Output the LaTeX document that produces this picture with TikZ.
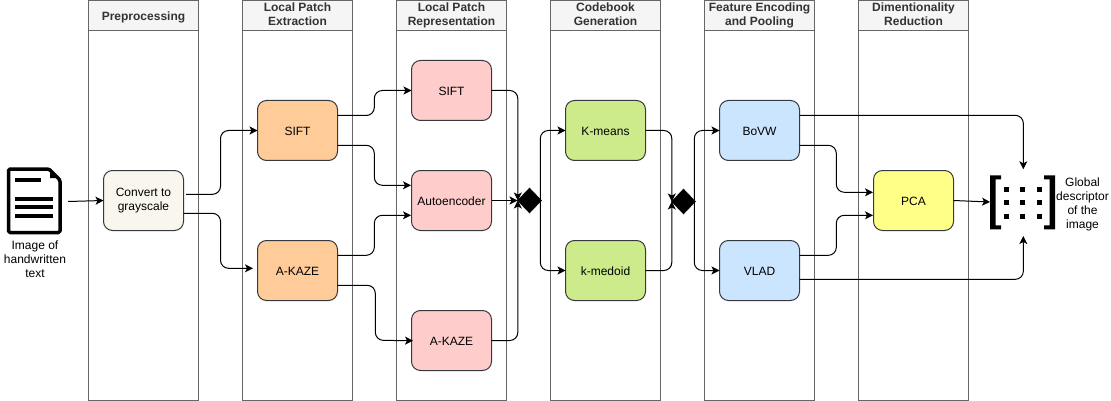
\documentclass[tikz,border=0pt]{standalone}
\usepackage{fontspec}
\setmainfont{Liberation Sans}
\usetikzlibrary{arrows.meta,calc,shapes.geometric}
\definecolor{lanefill}{HTML}{F5F5F5}
\definecolor{lanedraw}{HTML}{666666}
\definecolor{lanetext}{HTML}{333333}
\definecolor{boxdraw}{HTML}{36393D}
\definecolor{cream}{HTML}{F9F7ED}
\definecolor{peach}{HTML}{FFCC99}
\definecolor{pink}{HTML}{FFCCCC}
\definecolor{lime}{HTML}{CDEB8B}
\definecolor{sky}{HTML}{CCE5FF}
\definecolor{lemon}{HTML}{FFFF88}
\tikzset{
  x=1pt,y=-1pt,
  txt/.style={font=\fontsize{12}{14}\selectfont,align=center,inner sep=0pt,text=black},
  evenlines/.style={execute at begin node={\rule[-3pt]{0pt}{16pt}},execute at end node={\rule[-3pt]{0pt}{3pt}}},
  oneline/.style={},
  twolines/.style={execute at begin node={\rule[-3pt]{0pt}{19.5pt}}},
  lanebody/.style={draw=lanedraw,line width=1pt,fill=white,minimum width=110pt,minimum height=400pt,inner sep=0pt,outer sep=0pt},
  lanehead/.style={draw=lanedraw,line width=1pt,fill=lanefill,minimum width=110pt,minimum height=30pt,inner sep=0pt,outer sep=0pt,align=center,text=lanetext,font=\fontsize{12}{14}\selectfont\bfseries,evenlines},
  stepbox/.style={draw=boxdraw,line width=1pt,rounded corners=9pt,minimum width=80pt,minimum height=60pt,inner sep=0pt,outer sep=0pt,align=center,font=\fontsize{12}{14}\selectfont,evenlines},
  conn/.style={draw=black,line width=1pt,rounded corners=8pt,-{Stealth[length=8pt,width=8pt,inset=2pt]}},
  hub/.style={diamond,fill=black,draw=black,minimum width=24pt,minimum height=25pt,inner sep=0pt,outer sep=0pt},
}
\begin{document}
\begin{tikzpicture}
\useasboundingbox (0,0) rectangle (1111,401);
% lanes
\foreach \n/\cx/\st/\lab in {a/143.5/oneline/Preprocessing,b/297.5/twolines/{Local Patch\\Extraction},c/451.5/twolines/{Local Patch\\Representation},d/605.5/twolines/{Codebook\\Generation},e/759.5/twolines/{Feature Encoding\\and Pooling},f/913.5/twolines/{Dimentionality\\Reduction}}{
  \node[lanebody] (lane\n) at (\cx,200.5) {};
  \node[lanehead,\st] (head\n) at (\cx,15.5) {\lab};
}
% boxes
\node[stepbox,twolines,fill=cream] (gray) at (143.5,200.5) {Convert to\\grayscale};
\node[stepbox,fill=peach] (sift) at (297.5,130.5) {SIFT};
\node[stepbox,fill=peach] (kaze) at (297.5,270.5) {A-KAZE};
\node[stepbox,fill=pink] (rsift) at (451.5,90.5) {SIFT};
\node[stepbox,fill=pink] (rauto) at (451.5,200.5) {Autoencoder};
\node[stepbox,fill=pink] (rkaze) at (451.5,340.5) {A-KAZE};
\node[stepbox,fill=lime] (kmeans) at (605.5,130.5) {K-means};
\node[stepbox,fill=lime] (kmed) at (605.5,270.5) {k-medoid};
\node[stepbox,fill=sky] (bovw) at (759.5,130.5) {BoVW};
\node[stepbox,fill=sky] (vlad) at (759.5,270.5) {VLAD};
\node[stepbox,fill=lemon] (pca) at (913.5,200.5) {PCA};
\node[hub] (h1) at (529.5,200.5) {};
\node[hub] (h2) at (683.5,201.5) {};
% document icon
\coordinate (docin) at (68,201.5);
\draw[line width=3.5pt,line join=round,rounded corners=1.5pt,fill=white] (8.5,169) -- (49,169) -- (60,180) -- (60,232.5) -- (8.5,232.5) -- cycle;
\fill[black] (50,172) -- (50,178) -- (57,178) -- cycle;
\fill[black] (15,178) rectangle (41,182);
\fill[black] (15,197) rectangle (53,201);
\fill[black] (15,205) rectangle (53,209);
\fill[black] (15,214) rectangle (53,218);
\node[txt] (doclabel) at (35,259.5) {Image of\\handwritten\\text};
% matrix icon
\coordinate (mattop) at (1023.3,169.3);
\coordinate (matbot) at (1023.3,236);
\coordinate (matleft) at (990,202);
\fill[black] (990,175.3) -- (1001,175.3) -- (1001,179.3) -- (995.5,179.3) -- (995.5,225.3) -- (1001,225.3) -- (1001,229.3) -- (990,229.3) -- cycle;
\fill[black] (1055,175.3) -- (1044,175.3) -- (1044,179.3) -- (1049.5,179.3) -- (1049.5,225.3) -- (1044,225.3) -- (1044,229.3) -- (1055,229.3) -- cycle;
\foreach \px in {1006,1022.5,1039}{\foreach \py in {189,202.5,216}{\fill[black] (\px-2.5,\py-2.5) rectangle (\px+2.5,\py+2.5);}}
\node[txt] (matlabel) at (1082.5,204.5) {Global\\descriptor\\of the\\image};
% connectors
\coordinate (gout1) at (186,194.3);
\coordinate (gout2) at (183.5,213.3);
\draw[conn] (docin) -- (gray.west);
\draw[conn] (gout1) -- (220.5,194.3) -- (220.5,130.5) -- (sift.west);
\draw[conn] (gout2) -- (220.5,213.3) -- (220.5,268.3) -- ([xshift=-4.5pt,yshift=2.2pt]kaze.west);
\draw[conn] (337.5,115.5) -- (374.3,115.5) -- (374.3,90.5) -- (rsift.west);
\draw[conn] (337.5,145.3) -- (374.3,145.3) -- (374.3,185.3) -- (411,185.3);
\draw[conn] (337.5,255.3) -- (374.3,255.3) -- (374.3,215.3) -- (411,215.3);
\draw[conn] (337.5,285.3) -- (375.3,285.3) -- (375.3,340.3) -- ([xshift=1.5pt,yshift=-0.2pt]rkaze.west);
\draw[conn] (rsift.east) -- (517.8,90.5) -- (517.8,200.5);
\draw[conn] (rkaze.east) -- (517.8,340.5) -- (517.8,200.5);
\draw[conn] (rauto.east) -- (h1.west);
\draw[conn] ([xshift=-1.2pt]h1.east) -- (540.3,130.5) -- (kmeans.west);
\draw[conn] ([xshift=-1.2pt]h1.east) -- (540.3,270.5) -- (kmed.west);
\draw[conn] (kmeans.east) -- (671.8,130.5) -- (671.8,201.5);
\draw[conn] (kmed.east) -- (671.8,270.5) -- (671.8,201.5);
\draw[conn] ([xshift=-1.2pt]h2.east) -- (694.3,130.5) -- (bovw.west);
\draw[conn] ([xshift=-1.2pt]h2.east) -- (694.3,270.5) -- (vlad.west);
\draw[conn] (799.5,115.3) -- (mattop |- 0,115.3) -- (mattop);
\draw[conn] (799.5,279.3) -- (matbot |- 0,279.3) -- (matbot);
\draw[conn] (799.5,145.3) -- (836.3,145.3) -- (836.3,192.3) -- (873,192.3);
\draw[conn] (799.5,255.3) -- (836.3,255.3) -- (836.3,215.3) -- (873,215.3);
\draw[conn] (pca.east) -- (matleft);
\end{tikzpicture}
\end{document}
